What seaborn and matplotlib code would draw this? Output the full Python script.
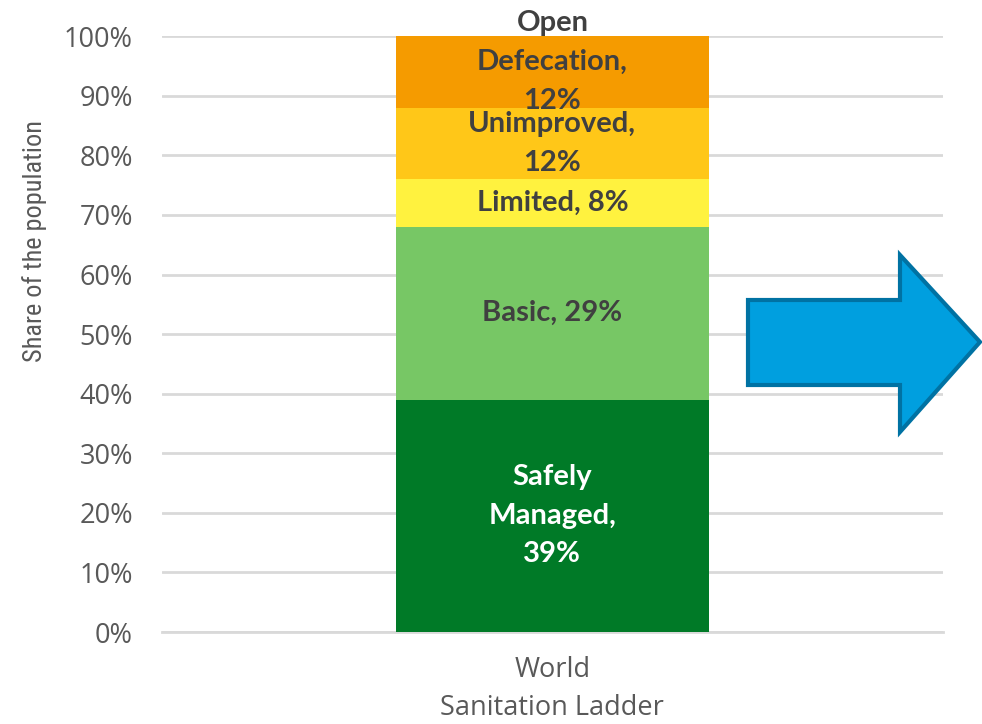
import numpy as np
import pandas as pd
import matplotlib.pyplot as plt
import seaborn as sns
from matplotlib import font_manager
from matplotlib.patches import Polygon

categories = ['World\nSanitation Ladder']
levels = ['Safely\nManaged,\n', 'Basic, ', 'Limited, ', 'Unimproved,\n', 'Open\nDefecation,\n']
values = [39, 29, 8, 12, 12]
colors = ['#007A27', '#77C765', '#FFF23F', '#FFC718', '#F59B00']
text_colors = ['white', '#404040', '#404040', '#404040', '#404040']

sns.set_style('white')
plt.rcParams['font.family'] = ['Open Sans', 'DejaVu Sans']

# narrow face for the y label if there is one
names = {f.name for f in font_manager.fontManager.ttflist}
ylab_font = 'Lato'
for cand in ['Liberation Sans Narrow', 'Roboto Condensed', 'Open Sans Condensed']:
    if cand in names:
        ylab_font = cand
        break

fig = plt.figure(figsize=(9.82, 7.24), dpi=100)
ax = fig.add_axes([0.165, 0.127, 0.795, 0.823])

bottom = 0
for lvl, v, c, tc in zip(levels, values, colors, text_colors):
    sns.barplot(x=categories, y=[v], bottom=bottom, color=c, width=0.4,
                saturation=1, linewidth=0, ax=ax, zorder=3)
    off = 10 if lvl.startswith('Open') else 0
    ax.annotate(f'{lvl}{v}%', (0, bottom + v / 2), xytext=(0, off), textcoords='offset pixels',
                ha='center', va='center', fontsize=21, fontweight='bold',
                color=tc, linespacing=1.6, family=['Lato', 'DejaVu Sans'], zorder=5)
    bottom += v

ax.set_ylim(0, 100)
ax.set_xlim(-0.5, 0.5)
ax.set_yticks(np.arange(0, 101, 10))
ax.set_yticklabels([f'{t}%' for t in range(0, 101, 10)])
ax.yaxis.grid(True, color='#D9D9D9', linewidth=2, zorder=0)
ax.set_axisbelow(True)
for s in ['top', 'right', 'left']:
    ax.spines[s].set_visible(False)
ax.spines['bottom'].set_color('#D9D9D9')
ax.spines['bottom'].set_linewidth(2)
ax.tick_params(axis='both', length=0, labelsize=19.5, labelcolor='#595959')
ax.tick_params(axis='y', pad=21)
ax.tick_params(axis='x', pad=17)
for t in ax.get_xticklabels():
    t.set_linespacing(1.5)
ylab = ax.set_ylabel('Share of the population', fontsize=18, color='#595959',
                     family=[ylab_font, 'DejaVu Sans'])
ax.yaxis.set_label_coords(-0.147, 0.656)
ax.set_xlabel('')

# size the y label to the length it has in the reference (~242 px)
fig.canvas.draw()
h = ylab.get_window_extent().height
ylab.set_fontsize(18 * 242 / h)

# arrow shape in pixel coordinates
W, H = 982, 724
pts = [(748, 300), (900, 300), (900, 255), (980, 342), (900, 432), (900, 385), (748, 385)]
arrow = Polygon([(x / W, 1 - y / H) for x, y in pts], closed=True, transform=fig.transFigure,
                facecolor='#009FDF', edgecolor='#0072A3', linewidth=3, zorder=10)
fig.patches.append(arrow)

fig.savefig('out.png', dpi=100)
